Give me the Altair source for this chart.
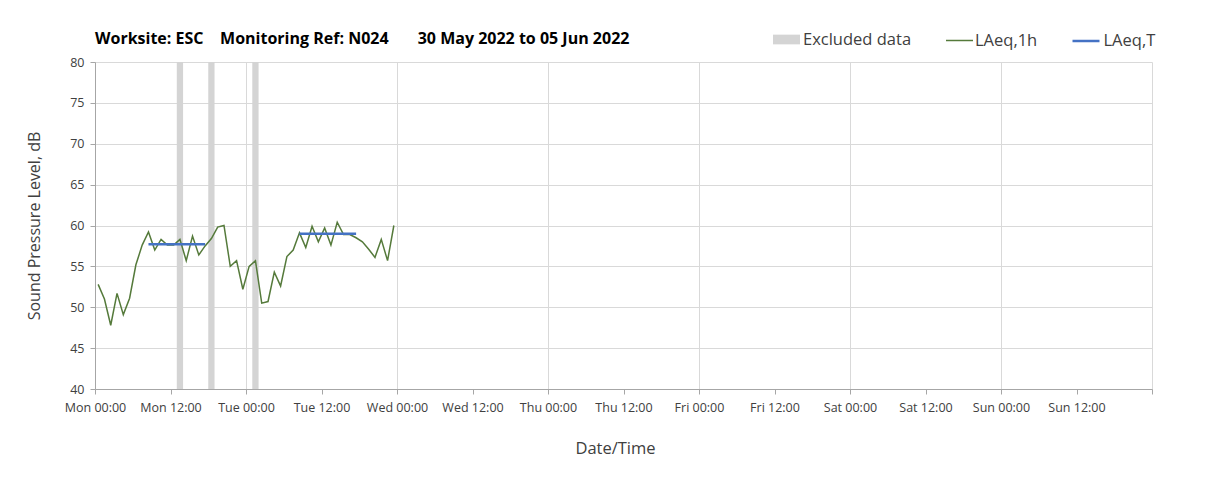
import altair as alt
import pandas as pd

# ---------------- data ----------------
DAY_NAMES = ["Mon", "Tue", "Wed", "Thu", "Fri", "Sat", "Sun"]
TICK_TIMES = ["00:00", "12:00"]

# hour-of-week (centre of each hourly interval) and LAeq,1h values
HOURS = [0.5, 1.5, 2.5, 3.5, 4.5, 5.5, 6.5, 7.5, 8.5, 9.5, 10.5, 11.5,
         12.5, 13.5, 14.5, 15.5, 16.5, 17.5, 18.5, 19.5, 20.5, 21.5, 22.5, 23.5,
         24.5, 25.5, 26.5, 27.5, 28.5, 29.5, 30.5, 31.5, 32.5, 33.5, 34.5, 35.5,
         36.5, 37.5, 38.5, 39.5, 40.5, 41.5, 42.5, 43.5, 44.5, 45.5, 46.5, 47.5]
LAEQ_1H = [52.8, 51.0, 47.8, 51.7, 49.1, 51.1, 55.2, 57.6, 59.2, 57.0, 58.3, 57.6,
           57.6, 58.3, 55.7, 58.7, 56.4, 57.5, 58.4, 59.8, 60.0, 55.0, 55.7, 52.2,
           55.0, 55.7, 50.5, 50.7, 54.3, 52.6, 56.2, 57.0, 59.1, 57.3, 59.9, 58.0,
           59.7, 57.6, 60.4, 58.9, 58.9, 58.5, 58.0, 57.1, 56.1, 58.3, 55.7, 60.0]

# excluded-data periods (hour of week)
EXCL_START = [13, 18, 25]
EXCL_END = [14, 19, 26]

# LAeq,T periods
LAEQ_T_START = [8.5, 32.5]
LAEQ_T_END = [17.5, 41.5]
LAEQ_T = [57.7, 59.0]

SERIES = ["Excluded data", "LAeq,1h", "LAeq,T"]
COLORS = ["#d4d4d4", "#557a3b", "#4472c4"]
WIDTHS = [10, 1.5, 2.5]

Y_TICKS = [40, 45, 50, 55, 60, 65, 70, 75, 80]
X_TICKS = [0, 12, 24, 36, 48, 60, 72, 84, 96, 108, 120, 132, 144, 156, 168]

TITLE = ("Worksite: ESC\u00a0\u00a0\u00a0\u00a0Monitoring Ref: N024"
         "\u00a0\u00a0\u00a0\u00a0\u00a0\u00a0\u00a030 May 2022 to 05 Jun 2022")

FONT = "Open Sans"
TXT = "#404040"

# ---------------- tables ----------------
line_df = pd.DataFrame({"hour": HOURS, "level": LAEQ_1H, "series": SERIES[1]})
excl_df = pd.DataFrame({"start": EXCL_START, "end": EXCL_END, "series": SERIES[0]})
laeqt_df = pd.DataFrame({"start": LAEQ_T_START, "end": LAEQ_T_END,
                         "level": LAEQ_T, "series": SERIES[2]})

days_js = "[" + ",".join(f"'{d}'" for d in DAY_NAMES) + "]"
label_expr = (f"datum.value >= 168 ? '' : {days_js}[floor(datum.value / 24)] + ' ' + "
              f"(datum.value % 24 == 0 ? '{TICK_TIMES[0]}' : '{TICK_TIMES[1]}')")

x_scale = alt.Scale(domain=[0, 168], nice=False, zero=False)
y_scale = alt.Scale(domain=[40, 80], nice=False, zero=False)

x_axis = alt.Axis(
    values=X_TICKS, labelExpr=label_expr, title="Date/Time",
    grid=True, gridColor="#d9d9d9",
    gridOpacity={"condition": {"test": "datum.value % 24 != 0", "value": 0}, "value": 1},
    domainColor="#a6a6a6", tickColor="#a6a6a6", tickSize=5,
    labelFont=FONT, labelFontSize=12.5, labelColor=TXT, labelPadding=7,
    labelFlush=False, labelOverlap=False,
    titleFont=FONT, titleFontSize=16.5, titleFontWeight="normal", titleColor=TXT,
    titlePadding=27, titleX=520,
)
y_axis = alt.Axis(
    values=Y_TICKS, title="Sound Pressure Level, dB",
    grid=True, gridColor="#d9d9d9",
    domainColor="#a6a6a6", tickColor="#a6a6a6", tickSize=5,
    labelFont=FONT, labelFontSize=12.5, labelColor=TXT, labelPadding=6,
    titleFont=FONT, titleFontSize=16, titleFontWeight="normal", titleColor=TXT,
    titlePadding=27,
)


def legend_for(x, y, symbol, stroke_width, label_offset):
    return alt.Legend(
        title=None, orient="none", direction="horizontal", legendX=x, legendY=y,
        symbolType=symbol, symbolSize=729, symbolStrokeWidth=stroke_width,
        labelFont=FONT, labelFontSize=16.5, labelColor=TXT, labelOffset=label_offset,
    )


excl = alt.Chart(excl_df).mark_rect().encode(
    x=alt.X("start:Q", scale=x_scale, axis=x_axis),
    x2="end:Q",
    color=alt.Color("series:N", scale=alt.Scale(domain=[SERIES[0]], range=[COLORS[0]]),
                    legend=legend_for(678, -36, "M-1,-0.36H1V0.36H-1Z", 0, 3)),
)

line = alt.Chart(line_df).mark_line(strokeWidth=WIDTHS[1]).encode(
    x=alt.X("hour:Q", scale=x_scale, axis=x_axis),
    y=alt.Y("level:Q", scale=y_scale, axis=y_axis),
    color=alt.Color("series:N", scale=alt.Scale(domain=[SERIES[1]], range=[COLORS[1]]),
                    legend=legend_for(850, -36, "stroke", WIDTHS[1], 1)),
)

laeqt = alt.Chart(laeqt_df).mark_rule(strokeWidth=WIDTHS[2]).encode(
    x=alt.X("start:Q", scale=x_scale, axis=x_axis),
    x2="end:Q",
    y=alt.Y("level:Q", scale=y_scale, axis=y_axis),
    color=alt.Color("series:N", scale=alt.Scale(domain=[SERIES[2]], range=[COLORS[2]]),
                    legend=legend_for(976, -36, "stroke", WIDTHS[2], 2.5)),
)

chart = alt.layer(excl, line, laeqt).resolve_scale(color="independent").properties(
    width=1057, height=327,
    title=alt.TitleParams(TITLE, anchor="start", frame="group", font=FONT,
                          fontSize=16, fontWeight="bold", color="#000000", offset=-21),
    autosize=alt.AutoSizeParams(type="none"),
    padding={"left": 87, "top": 54, "right": 40, "bottom": 70},
    background="white",
).configure_view(stroke=None)

chart.save("out.html", embed_options={"renderer": "svg", "actions": False})
